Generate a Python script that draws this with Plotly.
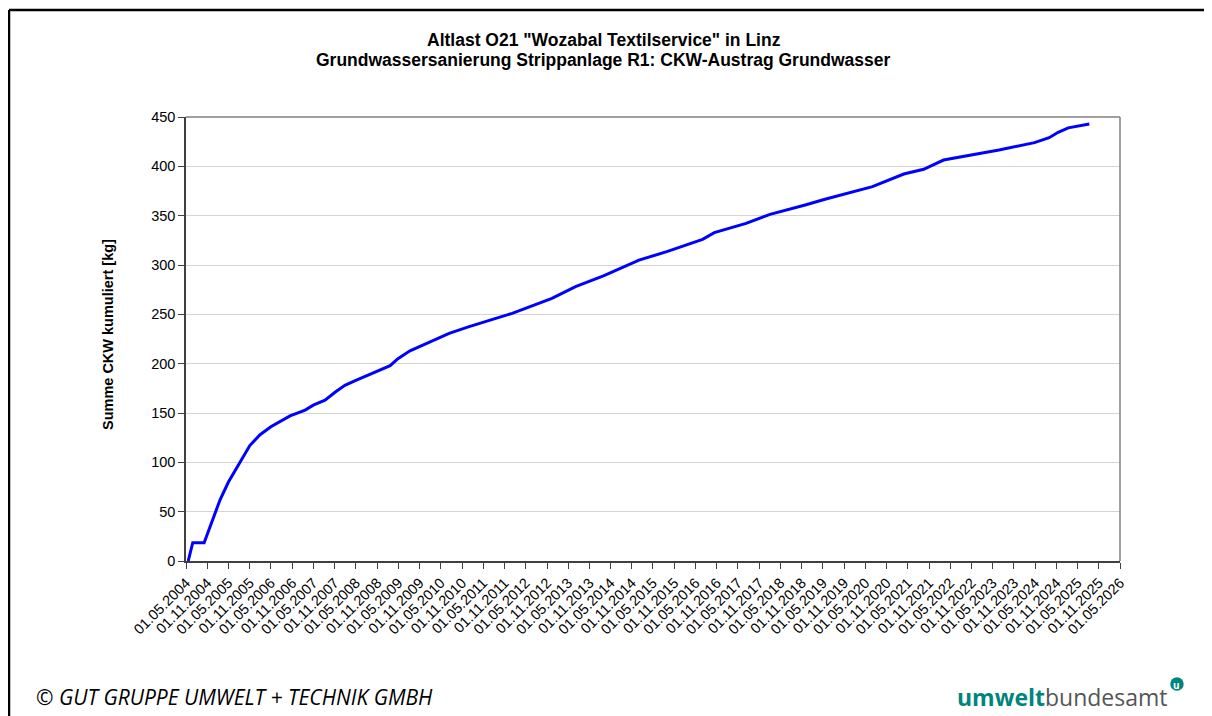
import plotly.graph_objects as go

dates = ["2004-05-20", "2004-06-28", "2004-10-04", "2005-02-18", "2005-05-01",
         "2005-08-10", "2005-11-01", "2006-01-28", "2006-05-01", "2006-10-13",
         "2007-02-20", "2007-05-01", "2007-08-10", "2007-11-04", "2008-01-28",
         "2008-05-01", "2008-10-13", "2009-02-20", "2009-04-28", "2009-08-10",
         "2010-07-13", "2011-01-01", "2012-01-06", "2012-12-13", "2013-07-04",
         "2014-03-01", "2015-01-01", "2015-08-28", "2016-07-01", "2016-10-10",
         "2017-07-10", "2018-02-01", "2018-12-01", "2019-05-20", "2020-07-01",
         "2021-03-28", "2021-09-15", "2022-03-05", "2023-06-25", "2024-04-25",
         "2024-08-30", "2024-11-15", "2025-02-10", "2025-08-10"]
ckw_kum = [0, 18.5, 18.5, 62, 80,
           100, 117, 128, 136, 147,
           153, 158, 163, 171, 178,
           183, 191, 198, 205, 213,
           230.8, 237.5, 251, 266.2, 278,
           288.9, 305, 313.5, 326, 332.8,
           342.2, 351.3, 360.8, 366.6, 379.4,
           392.2, 397, 406.4, 416.6, 424,
           429, 434.5, 439, 443]

tick_years = list(range(2004, 2027))
tick_dates = []
for yr in tick_years:
    tick_dates.append(f"{yr}-05-01")
    if yr < 2026:
        tick_dates.append(f"{yr}-11-01")
tick_labels = [f"{d[8:10]}.{d[5:7]}.{d[0:4]}" for d in tick_dates]

y_ticks = [0, 50, 100, 150, 200, 250, 300, 350, 400, 450]

title_lines = ["Altlast O21 \"Wozabal Textilservice\" in Linz",
               "Grundwassersanierung Strippanlage R1: CKW-Austrag Grundwasser"]

fig = go.Figure()
fig.add_trace(go.Scatter(x=dates, y=ckw_kum, mode="lines",
                         line=dict(color="#0000ff", width=3),
                         showlegend=False))

font_axis = "Liberation Sans, Arial, sans-serif"
font_foot = "Open Sans, Noto Sans, sans-serif"

# the page is drawn 8px in from the window corner, so the figure is 8px smaller
fig.update_layout(
    width=1204, height=708,
    margin=dict(l=178, r=92, t=109, b=155),
    paper_bgcolor="white", plot_bgcolor="white",
    font=dict(family=font_axis, color="black", size=14),
)

fig.update_xaxes(type="date", range=["2004-05-01", "2026-05-01"],
                 tickvals=tick_dates, ticktext=tick_labels, tickangle=-45,
                 tickfont=dict(size=14.5, family=font_axis),
                 ticks="outside", ticklen=6, tickcolor="#404040",
                 showgrid=False, showline=True, linecolor="#404040", linewidth=1.5,
                 zeroline=False)
fig.update_yaxes(range=[0, 450], tickvals=y_ticks,
                 tickfont=dict(size=14.5, family=font_axis),
                 ticks="outside", ticklen=6, tickcolor="#404040",
                 showgrid=True, gridcolor="#d4d4d4", gridwidth=1,
                 showline=True, linecolor="#404040", linewidth=1.5,
                 zeroline=False)

# title (two lines)
for txt, yy in zip(title_lines, [1.1734, 1.1284]):
    fig.add_annotation(text=f"<b>{txt}</b>", xref="paper", yref="paper",
                       x=0.4475, y=yy, xanchor="center", yanchor="middle",
                       showarrow=False, font=dict(size=17.5, family=font_axis))

# y-axis title
fig.add_annotation(text="<b>Summe CKW kumuliert [kg]</b>", textangle=-90,
                   xref="paper", yref="paper", x=-0.0835, y=0.509,
                   xanchor="center", yanchor="middle", showarrow=False,
                   font=dict(size=14.5, family=font_axis))

# gray frame on top and right of the plot area
fig.add_shape(type="line", xref="paper", yref="paper", x0=0, x1=1, y0=1, y1=1,
              line=dict(color="#808080", width=1.5))
fig.add_shape(type="line", xref="paper", yref="paper", x0=1, x1=1, y0=0, y1=1,
              line=dict(color="#808080", width=1.5))

# black outer frame (top and left)
fig.add_shape(type="line", xref="paper", yref="paper",
              x0=-0.1895, x1=1.1, y0=1.2410, y1=1.2410,
              line=dict(color="black", width=2.5))
fig.add_shape(type="line", xref="paper", yref="paper",
              x0=-0.1895, x1=-0.1895, y0=1.2410, y1=-0.36,
              line=dict(color="black", width=2.5))

# footer
fig.add_annotation(text="<i>© GUT GRUPPE UMWELT + TECHNIK GMBH</i>",
                   xref="paper", yref="paper", x=-0.1632, y=-0.3063,
                   xanchor="left", yanchor="middle", showarrow=False,
                   font=dict(family=font_foot, size=21, color="black"))
fig.add_annotation(text="<b><span style='color:#00857c'>umwelt</span></b>"
                        "<span style='color:#555555'>bundesamt</span>",
                   xref="paper", yref="paper", x=1.0535, y=-0.3063,
                   xanchor="right", yanchor="middle", showarrow=False,
                   font=dict(family=font_foot, size=23))
fig.add_shape(type="circle", xref="paper", yref="paper",
              x0=1.0610 - 0.0072, x1=1.0610 + 0.0072,
              y0=-0.277 - 0.0152, y1=-0.277 + 0.0152,
              fillcolor="#00857c", line=dict(width=0))
fig.add_annotation(text="<b>u</b>",
                   xref="paper", yref="paper", x=1.0610, y=-0.279,
                   xanchor="center", yanchor="middle", showarrow=False,
                   font=dict(family=font_foot, size=10, color="white"))

fig.write_html("out.html")
